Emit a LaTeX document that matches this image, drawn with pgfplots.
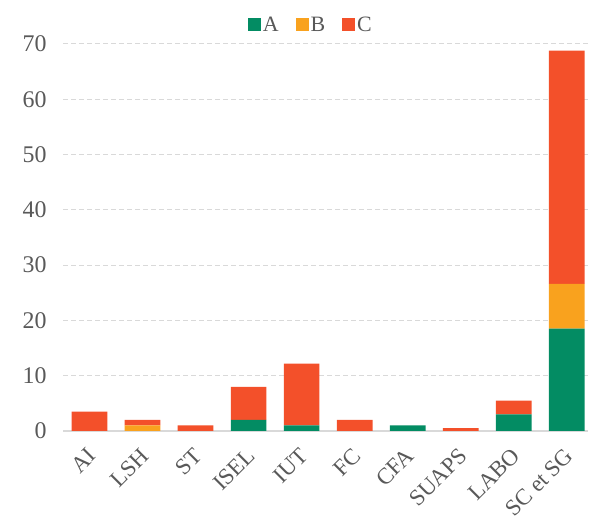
\documentclass[border=0pt]{standalone}
\usepackage{fontspec}
\setmainfont{Liberation Serif}
\usepackage{pgfplots}
\pgfplotsset{compat=1.18}
\definecolor{cA}{HTML}{038C63}
\definecolor{cB}{HTML}{F9A21E}
\definecolor{cC}{HTML}{F3502A}
\definecolor{txt}{HTML}{595959}
\definecolor{gridc}{HTML}{D9D9D9}
\begin{document}
\begin{tikzpicture}
\begin{axis}[
  scale only axis, width=525bp, height=387bp,
  ybar stacked, bar width=35.7bp,
  xmin=-0.5, xmax=9.4, ymin=0, ymax=70,
  xtick={0,...,9},
  xticklabels={AI,LSH,ST,ISEL,IUT,FC,CFA,SUAPS,LABO,SC et SG},
  ytick={0,10,...,70},
  /pgf/number format/assume math mode=true,
  tick label style={font=\fontsize{24}{27}\selectfont, text=txt},
  x tick label style={font=\fontsize{23}{26}\selectfont, xshift=-3bp, yshift=-14bp, rotate=45, anchor=north east, inner sep=1bp},
  y tick label style={xshift=-13bp},
  major tick length=0pt,
  ymajorgrids, grid style={dashed, color=gridc, line width=1pt, dash pattern=on 5bp off 3bp},
  axis x line*=bottom, axis y line*=left,
  x axis line style={color=gridc, line width=1.5pt, -},
  y axis line style={draw=none},
  legend columns=3,
  legend style={at={(0.472,1)}, anchor=center, yshift=19bp, draw=none, fill=none,
    font=\fontsize{22}{24}\selectfont, text=txt,
    /tikz/every even column/.append style={column sep=15bp}},
  legend image code/.code={\fill[#1] (0bp,-6.5bp) rectangle (13bp,6.5bp);},
]
\addplot[fill=cA, draw=none] coordinates {(0,0) (1,0) (2,0) (3,2) (4,1) (5,0) (6,1) (7,0) (8,3) (9,18.5)};
\addplot[fill=cB, draw=none] coordinates {(0,0) (1,1) (2,0) (3,0) (4,0) (5,0) (6,0) (7,0) (8,0) (9,8.1)};
\addplot[fill=cC, draw=none] coordinates {(0,3.5) (1,1) (2,1) (3,6) (4,11.2) (5,2) (6,0) (7,0.5) (8,2.5) (9,42.2)};
\legend{A,B,C}
\end{axis}
\pgfresetboundingbox
\path[use as bounding box] ([shift={(-63bp,-87bp)}]current axis.south west) rectangle ([shift={(1bp,44bp)}]current axis.north east);
\end{tikzpicture}
\end{document}
